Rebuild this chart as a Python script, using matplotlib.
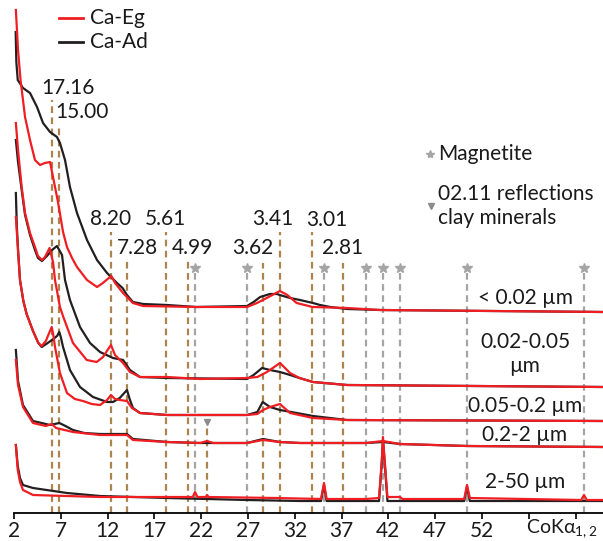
import numpy as np
import matplotlib
matplotlib.use("Agg")
import matplotlib.pyplot as plt
from matplotlib.lines import Line2D

plt.rcParams['font.family'] = ['Lato', 'DejaVu Sans']

# XRD patterns (2theta CoKa, relative intensity above each pattern's baseline)
samples = ['< 0.02 µm', '0.02-0.05\nµm', '0.05-0.2 µm', '0.2-2 µm', '2-50 µm']

eg_002 = [(2.2, 302), (2.43, 262), (2.7, 232), (3.18, 195), (3.71, 172), (4.24, 152), (4.78, 147),
          (5.3, 149), (5.85, 150), (6.17, 135), (6.7, 110), (7.24, 80), (7.66, 65), (8.2, 54), (8.73, 45),
          (9.8, 32), (10.87, 25), (11.5, 29), (12.0, 33), (12.4, 36), (12.8, 29), (13.65, 19), (14.7, 9),
          (15.8, 6), (21.5, 5), (26.9, 5), (27.96, 9), (29.0, 14), (30.4, 21), (31.2, 17), (32.2, 9),
          (33.9, 5), (37.6, 4), (41.1, 2), (65, 0)]
ad_002 = [(2.18, 280), (2.25, 250), (2.4, 232), (2.96, 224), (3.71, 219), (4.46, 205), (5.1, 189),
          (5.85, 180), (6.59, 175), (6.91, 169), (7.45, 152), (7.98, 125), (8.73, 99), (9.8, 72),
          (10.87, 52), (11.94, 39), (13.0, 29), (13.6, 24), (14.07, 17), (14.7, 10), (15.8, 8), (18.35, 7),
          (21.5, 5), (26.9, 6), (27.6, 10), (28.3, 15), (29.35, 18), (30.1, 18), (30.4, 17), (31.5, 14),
          (32.56, 12), (33.94, 9), (34.7, 7), (35.8, 5), (37.6, 3), (41.1, 2), (65, 0)]

eg_005 = [(2.2, 264), (2.43, 237), (2.82, 200), (3.18, 174), (3.71, 154), (4.24, 140), (4.56, 131),
          (4.99, 127), (5.31, 130), (5.8, 139), (6.17, 125), (6.38, 107), (6.91, 80), (7.27, 70), (8.3, 44),
          (9.77, 27), (10.83, 25), (11.51, 30), (12.0, 37), (12.36, 42), (12.79, 32), (13.65, 24),
          (14.39, 15), (15.46, 10), (18.35, 10), (21.9, 8), (26.9, 9), (28.0, 10), (29.03, 15), (30.42, 24),
          (31.49, 14), (32.5, 9), (33.94, 5), (37.58, 2), (65, 0)]
ad_005 = [(2.2, 247), (2.43, 225), (2.82, 197), (3.18, 172), (3.71, 152), (4.24, 137), (4.56, 129),
          (4.99, 126), (5.52, 131), (6.06, 137), (6.59, 141), (7.13, 132), (7.45, 107), (7.98, 87),
          (9.05, 60), (10.12, 44), (11.19, 35), (12.58, 29), (13.65, 27), (14.39, 17), (15.46, 10),
          (18.35, 9), (26.9, 8), (27.6, 12), (28.5, 19), (29.35, 17), (30.42, 15), (31.5, 12), (32.5, 9),
          (33.94, 5), (37.58, 2), (65, 0)]

eg_02 = [(2.2, 204), (2.43, 170), (2.64, 141), (3.0, 120), (3.35, 107), (4.03, 90), (4.6, 78), (4.96, 75),
         (5.4, 80), (5.8, 89), (6.03, 94), (6.2, 86), (6.38, 74), (6.91, 48), (7.66, 28), (8.5, 22),
         (9.37, 20), (10.3, 17), (11.19, 16), (11.94, 21), (12.36, 26), (12.79, 22), (13.3, 21), (14.07, 20),
         (14.6, 13), (15.46, 8), (18.35, 6), (26.9, 6), (28.0, 7), (28.6, 11), (29.35, 14), (30.42, 17),
         (31.49, 8), (33.94, 3), (37.58, 1), (65, 0)]
ad_02 = [(2.2, 228), (2.3, 195), (2.43, 172), (2.64, 141), (3.0, 120), (3.35, 107), (4.03, 90), (4.6, 78),
         (4.96, 74), (5.6, 78), (6.2, 82), (6.6, 85), (6.84, 89), (7.0, 84), (7.24, 74), (7.98, 51),
         (9.05, 34), (10.44, 24), (11.94, 19), (12.58, 19), (13.3, 23), (14.07, 31), (14.39, 21),
         (14.71, 13), (15.46, 8), (18.35, 6), (26.9, 6), (28.0, 9), (28.57, 19), (29.35, 14), (30.42, 11),
         (32.2, 8), (33.94, 5), (37.58, 1), (65, 0)]

eg_2 = [(2.2, 87), (2.43, 62), (2.96, 40), (4.03, 24), (5.4, 21), (6.03, 23), (6.5, 19), (8.3, 15),
        (11.19, 12), (13.5, 12), (14.07, 12), (14.71, 7), (18.35, 5), (21.9, 4), (22.62, 6), (23.3, 4),
        (26.9, 4), (28.6, 7), (30.4, 5), (32.56, 4), (39.6, 4), (41.42, 6), (43.24, 3), (50.4, 1), (65, 0)]
ad_2 = [(2.2, 97), (2.43, 66), (2.96, 42), (4.03, 26), (5.85, 22), (6.84, 24), (7.5, 21), (8.3, 17),
        (9.5, 14), (11.19, 13), (13.5, 13), (14.07, 13), (14.71, 8), (18.35, 5), (21.9, 4), (26.9, 4),
        (28.6, 8), (30.4, 5), (32.56, 4), (39.6, 4), (41.42, 5), (43.24, 3), (50.4, 1), (65, 0)]

eg_50 = [(2.2, 55), (2.4, 30), (2.64, 18), (2.96, 10), (4.03, 5), (11.19, 3), (21.1, 3), (21.34, 8),
         (21.6, 3), (22.5, 3), (22.62, 5), (22.8, 3), (30, 2), (34.8, 1), (35.12, 17), (35.4, 1),
         (39.61, 1), (41.0, 2), (41.3, 40), (41.42, 63), (41.6, 40), (41.9, 3), (43.24, 3), (43.5, 1),
         (50.1, 1), (50.4, 15), (50.7, 2), (62.6, 0), (62.9, 5), (63.2, 0), (65, 0)]
ad_50 = [(2.2, 55), (2.4, 34), (2.64, 22), (2.96, 15), (4.03, 12), (7.66, 7), (11.19, 4), (18.35, 2),
         (26.9, 0), (32.56, -1), (34.8, -1), (35.12, 15), (35.4, -1), (41.0, -1), (41.3, 38), (41.42, 60),
         (41.6, 38), (41.9, -1), (50.1, -1), (50.4, 13), (50.7, -1), (65, -1)]

eg_patterns = [eg_002, eg_005, eg_02, eg_2, eg_50]
ad_patterns = [ad_002, ad_005, ad_02, ad_2, ad_50]
offsets = [201, 126, 92, 66, 13]

# d-spacings (Å) and their 2theta positions
d_labels = ['17.16', '15.00', '8.20', '7.28', '5.61', '4.99', '3.62', '3.41', '3.01', '2.81']
d_pos = [6.03, 6.84, 12.4, 14.04, 18.2, 20.55, 28.57, 30.4, 33.88, 37.12]
magnetite_pos = [21.34, 26.9, 35.12, 39.61, 41.42, 43.24, 50.4, 62.9]
clay_pos = [22.62]

brown = '#ad8450'
grey = '#a5a5a5'
red = '#f01e23'
black = '#231f20'
txt = '#1a1a1a'
fs = 15

fig = plt.figure(figsize=(6.03, 5.41), dpi=100)
ax = fig.add_axes([14 / 603, 28 / 541, 1 - 14 / 603, 513 / 541])
ax.set_xlim(2, 64.93)
ax.set_ylim(0, 513)

dash = (0, (3, 2))
# brown reference lines: upper row of labels sits higher
d_top = [413, 387, 281, 253, 281, 253, 250, 281, 281, 250]
d_text_y = [425, 401, 294, 265, 294, 265, 265, 294, 293, 265]
d_text_dx = [1.7, 2.4, -0.1, 1.2, -0.05, 0.5, -1.1, -0.75, 1.55, 0.0]
ax.vlines(d_pos, 0, d_top, colors=brown, linestyles=dash, lw=1.6, zorder=1)
for lab, x, ty, dx in zip(d_labels, d_pos, d_text_y, d_text_dx):
    ax.text(x + dx, ty, lab, ha='center', va='center', fontsize=fs, color=txt)

ax.vlines(magnetite_pos, 0, 243, colors=grey, linestyles=dash, lw=1.6, zorder=1)
ax.plot(magnetite_pos, [245] * len(magnetite_pos), ls='none', marker='*', ms=7, color=grey, zorder=2)
ax.vlines(clay_pos, 0, 88, colors=brown, linestyles=dash, lw=1.6, zorder=1)
ax.plot(clay_pos, [91], ls='none', marker='v', ms=5, color='#8c8c8c', zorder=2)

for eg, ad, off in zip(eg_patterns, ad_patterns, offsets):
    a = np.array(ad, dtype=float)
    e = np.array(eg, dtype=float)
    ax.plot(a[:, 0], a[:, 1] + off, color=black, lw=1.6, zorder=3, solid_joinstyle='round')
    ax.plot(e[:, 0], e[:, 1] + off, color=red, lw=1.6, zorder=4, solid_joinstyle='round')

label_y = [215, 159, 107, 78, 31]
for s, y in zip(samples, label_y):
    ax.text(56.6, y, s, ha='center', va='center', fontsize=fs, color=txt, linespacing=1.3)

# magnetite / clay legend
ax.plot([46.44], [359], marker='*', ms=6, color=grey, ls='none')
ax.text(47.3, 359, 'Magnetite', va='center', fontsize=fs, color=txt)
ax.plot([46.52], [307], marker='v', ms=4, color='#8c8c8c', ls='none')
ax.text(47.3, 307, '02.11 reflections\nclay minerals', va='center', fontsize=fs, color=txt,
        linespacing=1.3)

# sample treatment legend
fig.add_artist(Line2D([59 / 603, 83 / 603], [1 - 18 / 541] * 2, color=red, lw=2))
fig.add_artist(Line2D([59 / 603, 83 / 603], [1 - 42 / 541] * 2, color=black, lw=2))
fig.text(90 / 603, 1 - 18 / 541, 'Ca-Eg', va='center', fontsize=fs, color=txt)
fig.text(90 / 603, 1 - 42 / 541, 'Ca-Ad', va='center', fontsize=fs, color=txt)

for sp in ['left', 'right', 'top']:
    ax.spines[sp].set_visible(False)
ax.spines['bottom'].set_linewidth(1.3)
ax.set_yticks([])
ticks = list(range(2, 63, 5))
ax.set_xticks(ticks)
ax.set_xticklabels([str(t) if t <= 52 else '' for t in ticks], fontsize=fs, color=txt)
ax.tick_params(axis='x', direction='out', length=4, width=1.2, pad=2)
fig.text(598 / 603, 1 - 529 / 541, r'CoK$\mathregular{\alpha_{1,2}}$', ha='right', va='center',
         fontsize=fs - 1, color=txt)

fig.savefig('out.png', dpi=100)
